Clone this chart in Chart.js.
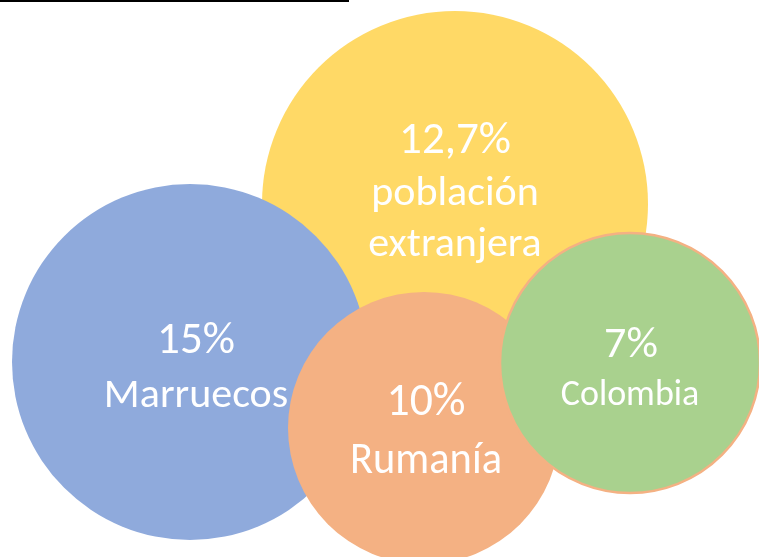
<!DOCTYPE html>
<html>
<head>
<meta charset="utf-8">
<script src="https://cdn.jsdelivr.net/npm/chart.js@4.4.1/dist/chart.umd.min.js"></script>
<style>
  body { margin: 0; background: #fff; }
  #wrap { width: 759px; height: 557px; position: relative; }
</style>
</head>
<body>
<div id="wrap"><canvas id="myChart"></canvas></div>
<script>
// datos
var categories = ['población extranjera', 'Marruecos', 'Rumanía', 'Colombia'];
var percentLabels = ['12,7%', '15%', '10%', '7%'];
var values = [12.7, 15, 10, 7];

// posicion de las burbujas (en unidades de la escala)
var bubbleX = [455, 190, 424, 630];
var bubbleY = [204, 362, 428, 363];
var bubbleR = [193, 178, 136, 130];

var colors = ['#FFD966', '#8FAADC', '#F4B183', '#A9D18E'];
var borders = ['#FFD966', '#8FAADC', '#F4B183', '#F4B183'];
var borderW = [0, 0, 0, 2.5];

// lineas de texto: [texto, dx, dy, tamaño, ancho max]
var textLines = [
    [['12,7%', 0, -51, 45, 116], ['población', 0, 1, 42, 168], ['extranjera', 0, 52, 42, 174]],
    [['15%', 6, -9, 45, 79], ['Marruecos', 6, 45, 42, 185]],
    [['10%', 2, -13, 47, 79], ['Rumanía', 2, 45, 45, 152]],
    [['7%', 1, -6, 44, 55], ['Colombia', 0, 42, 36, 142]]
];

var points = [];
for (var i = 0; i < values.length; i++) {
    points.push({x: bubbleX[i], y: bubbleY[i], r: bubbleR[i], v: values[i], label: categories[i]});
}

var labelPlugin = {
    id: 'bubbleLabels',
    beforeDatasetsDraw: function (chart) {
        var ctx = chart.ctx;
        ctx.save();
        ctx.strokeStyle = '#000';
        ctx.lineWidth = 2;
        ctx.beginPath();
        ctx.moveTo(0, 1);
        ctx.lineTo(349, 1);
        ctx.stroke();
        ctx.restore();
    },
    afterDatasetsDraw: function (chart) {
        var ctx = chart.ctx;
        var meta = chart.getDatasetMeta(0);
        ctx.save();
        ctx.fillStyle = '#fff';
        ctx.textAlign = 'center';
        ctx.textBaseline = 'alphabetic';
        for (var i = 0; i < meta.data.length; i++) {
            var el = meta.data[i];
            var lines = textLines[i];
            for (var j = 0; j < lines.length; j++) {
                var l = lines[j];
                ctx.font = l[3] + 'px Carlito, Lato, sans-serif';
                ctx.fillText(l[0], el.x + l[1], el.y + l[2], l[4]);
            }
        }
        ctx.restore();
    }
};

var ctx = document.getElementById('myChart').getContext('2d');
var myChart = new Chart(ctx, {
    type: 'bubble',
    data: {
        datasets: [{
            data: points,
            backgroundColor: colors,
            borderColor: borders,
            borderWidth: borderW,
            hoverBorderWidth: borderW,
            clip: false
        }]
    },
    options: {
        responsive: true,
        maintainAspectRatio: false,
        animation: false,
        events: [],
        layout: { padding: 0, autoPadding: false },
        plugins: { legend: { display: false }, tooltip: { enabled: false } },
        scales: {
            x: { display: false, min: 0, max: 759 },
            y: { display: false, min: 0, max: 557, reverse: true }
        }
    },
    plugins: [labelPlugin]
});
</script>
</body>
</html>
